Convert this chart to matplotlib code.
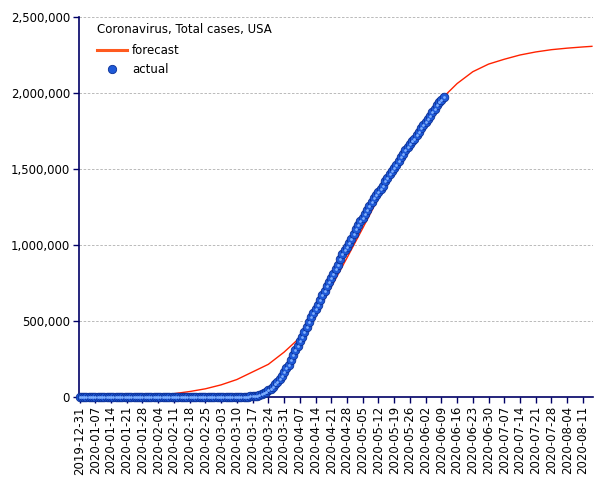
import pandas as pd
import matplotlib
matplotlib.use('Agg')
import matplotlib.pyplot as plt
import matplotlib.dates as mdates
from matplotlib.lines import Line2D
from matplotlib.ticker import FuncFormatter

# actual total cases, daily from 2019-12-31 to 2020-06-10
actual_start = '2019-12-31'
actual = [
    0, 0, 0, 0, 0, 0, 0, 0, 0, 0, 0, 0, 0, 0, 0, 0, 0, 0, 0, 0, 0,
    1, 1, 1, 2, 2, 5, 5, 5, 5, 5, 6,
    7, 8, 11, 11, 11, 12, 12, 12, 12, 12, 13, 13, 14, 15, 15, 15, 15, 15, 15, 15, 15,
    35, 35, 35, 53, 53, 59, 60, 62,
    70, 76, 101, 122, 153, 221, 278, 417, 537, 605, 959, 1281, 1663, 2179, 2726,
    3499, 4632, 6421, 7786, 13680, 19101, 25493, 33276, 43847, 53740, 65778,
    83836, 101657, 121465, 140909, 161831,
    188172, 213242, 243622, 275367, 308650, 336802, 366317, 397121, 428654,
    462780, 496535, 526396, 555313, 580619, 607670, 636350, 667801, 700062,
    732197, 758809, 784326, 811865, 840351, 869170, 905358, 938154, 965785,
    988197, 1012582, 1039909,
    1069424, 1103461, 1132539, 1158040, 1180375, 1204351, 1229331, 1257023,
    1283929, 1309550, 1329260, 1347881, 1369376, 1390406, 1417774, 1442824,
    1467820, 1486757, 1508308, 1528568, 1551853, 1577147, 1600937, 1622612,
    1643246, 1662302, 1680913, 1699933, 1721750, 1746019, 1770384,
    1790191, 1811020, 1831821, 1851520, 1872660, 1897838, 1920061, 1938823,
    1956421, 1973797,
]

# forecast curve
forecast_dates = ['2019-12-31', '2020-01-14', '2020-01-21', '2020-01-28', '2020-02-04',
                  '2020-02-11', '2020-02-18', '2020-02-25', '2020-03-03', '2020-03-10',
                  '2020-03-17', '2020-03-24', '2020-03-31', '2020-04-07', '2020-04-14',
                  '2020-04-21', '2020-04-28', '2020-05-05', '2020-05-12', '2020-05-19',
                  '2020-05-26', '2020-06-02', '2020-06-09', '2020-06-16', '2020-06-23',
                  '2020-06-30', '2020-07-07', '2020-07-14', '2020-07-21', '2020-07-28',
                  '2020-08-04', '2020-08-11', '2020-08-15']
forecast = [0, 500, 2000, 5000, 11000,
            22000, 36000, 54000, 80000, 115000,
            165000, 215000, 295000, 390000, 540000,
            725000, 915000, 1110000, 1310000, 1490000,
            1665000, 1820000, 1960000, 2062000, 2140000,
            2190000, 2222000, 2250000, 2270000, 2285000,
            2295000, 2303000, 2307000]

tick_start = '2019-12-31'
tick_end = '2020-08-11'

x_actual = pd.date_range(actual_start, periods=len(actual), freq='D')
x_forecast = pd.to_datetime(forecast_dates)
ticks = pd.date_range(tick_start, tick_end, freq='7D')

plt.rcParams['font.family'] = ['DejaVu Sans']
navy = '#000066'

fig = plt.figure(figsize=(6.05, 4.8), dpi=100)
ax = fig.add_axes([0.1306, 0.1729, 0.8496, 0.7917])

ax.plot(x_forecast, forecast, color='#ff2200', lw=1.0, zorder=3)
ax.plot(x_actual, actual, ls='none', marker='o', ms=6.2, mfc='#1f5ad8',
        mec='#0a2f96', mew=0.6, zorder=4, clip_on=False)
ax.plot(x_actual, actual, ls='none', marker='o', ms=2.0, mfc='#7fb0ff',
        mec='none', zorder=5, clip_on=False)

ax.set_ylim(0, 2500000)
ax.set_xlim(pd.Timestamp('2019-12-30 18:00'), pd.Timestamp('2020-08-15 12:00'))
ax.set_yticks([0, 500000, 1000000, 1500000, 2000000, 2500000])
ax.yaxis.set_major_formatter(FuncFormatter(lambda v, p: f'{int(v):,}'))
ax.set_xticks(ticks)
ax.xaxis.set_major_formatter(mdates.DateFormatter('%Y-%m-%d'))
plt.setp(ax.get_xticklabels(), rotation=90)
ax.tick_params(axis='both', labelsize=8.5, colors='black', length=4, width=1, pad=2.5)
ax.tick_params(axis='both', color=navy)

ax.grid(axis='y', color='#b0b0b0', ls=(0, (3, 2)), lw=0.6, zorder=0)
for s in ['top', 'right']:
    ax.spines[s].set_visible(False)
for s in ['left', 'bottom']:
    ax.spines[s].set_color(navy)
    ax.spines[s].set_linewidth(1.2)

handles = [Line2D([], [], color='#ff5a1f', lw=2.2),
           Line2D([], [], ls='none', marker='o', ms=6, mfc='#1f5ad8', mec='#0a2f96', mew=0.6)]
leg = ax.legend(handles, ['forecast', 'actual'], title='Coronavirus, Total cases, USA',
                loc='upper left', bbox_to_anchor=(0.152, 0.958), bbox_transform=fig.transFigure,
                frameon=False, fontsize=8.5, title_fontsize=8.5, handlelength=2.6,
                handletextpad=0.4, labelspacing=0.5, borderaxespad=0)
leg._legend_box.align = 'left'
leg.get_title().set_position((0, 2))

fig.savefig('out.png', dpi=100)
